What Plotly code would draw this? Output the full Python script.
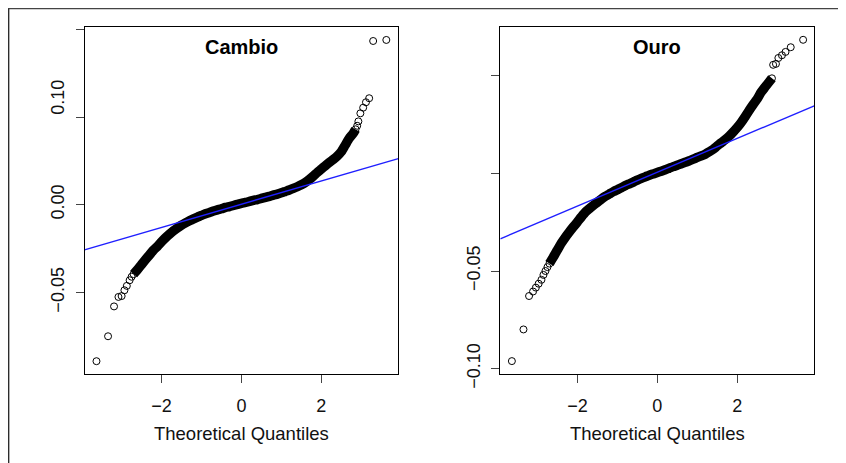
import plotly.graph_objects as go

# ---------------- data ----------------
# Cambio: dense body of the QQ plot (theoretical quantile, sample quantile)
cambio_body_q = [-2.7, -2.6, -2.5, -2.4, -2.3, -2.2, -2.1, -2.0, -1.9, -1.8, -1.7, -1.6, -1.5,
                 -1.4, -1.3, -1.2, -1.1, -1.0, -0.9, -0.8, -0.7, -0.6, -0.5, -0.4, -0.3, -0.2,
                 -0.1, 0.0, 0.1, 0.2, 0.3, 0.4, 0.5, 0.6, 0.7, 0.8, 0.9, 1.0, 1.1, 1.2, 1.3,
                 1.4, 1.5, 1.6, 1.7, 1.8, 1.9, 2.0, 2.1, 2.2, 2.3, 2.4, 2.5, 2.6, 2.7, 2.8, 2.86]
cambio_body_v = [-0.0395, -0.0369, -0.0340, -0.0312, -0.0285, -0.0258, -0.0236, -0.0211, -0.0188,
                 -0.0167, -0.0148, -0.0131, -0.0116, -0.0103, -0.0091, -0.0080, -0.0070, -0.0061,
                 -0.0051, -0.0044, -0.0036, -0.0029, -0.0023, -0.0015, -0.0010, -0.0004, 0.0002,
                 0.0008, 0.0013, 0.0019, 0.0025, 0.0030, 0.0036, 0.0042, 0.0048, 0.0055, 0.0061,
                 0.0068, 0.0076, 0.0084, 0.0093, 0.0103, 0.0114, 0.0127, 0.0144, 0.0163, 0.0184,
                 0.0203, 0.0222, 0.0241, 0.0258, 0.0277, 0.0302, 0.0340, 0.0378, 0.0407, 0.0430]
# Cambio: individual tail points
cambio_tail_q = [-3.63, -3.34, -3.19, -3.08, -3.00, -2.93, -2.87, -2.80, -2.75,
                 2.90, 2.93, 2.98, 3.05, 3.12, 3.20, 3.30, 3.63]
cambio_tail_v = [-0.0891, -0.0749, -0.0579, -0.0525, -0.0520, -0.0487, -0.0462, -0.0430, -0.0410,
                 0.0450, 0.0475, 0.0521, 0.0553, 0.0584, 0.0607, 0.0933, 0.0939]
cambio_line_intercept = 0.0003
cambio_line_slope = 0.00661

# Ouro
ouro_body_q = [-2.7, -2.6, -2.5, -2.4, -2.3, -2.2, -2.1, -2.0, -1.9, -1.8, -1.7, -1.6, -1.5,
               -1.4, -1.3, -1.2, -1.1, -1.0, -0.9, -0.8, -0.7, -0.6, -0.5, -0.4, -0.3, -0.2,
               -0.1, 0.0, 0.1, 0.2, 0.3, 0.4, 0.5, 0.6, 0.7, 0.8, 0.9, 1.0, 1.1, 1.2, 1.3,
               1.4, 1.5, 1.6, 1.7, 1.8, 1.9, 2.0, 2.1, 2.2, 2.3, 2.4, 2.5, 2.6, 2.7, 2.8, 2.87]
ouro_body_v = [-0.0462, -0.0428, -0.0392, -0.0357, -0.0327, -0.0300, -0.0274, -0.0249, -0.0223,
               -0.0199, -0.0181, -0.0164, -0.0148, -0.0132, -0.0118, -0.0106, -0.0094, -0.0084,
               -0.0074, -0.0063, -0.0054, -0.0045, -0.0035, -0.0026, -0.0018, -0.0010, -0.0003,
               0.0004, 0.0011, 0.0018, 0.0026, 0.0034, 0.0041, 0.0049, 0.0056, 0.0064, 0.0072,
               0.0081, 0.0089, 0.0098, 0.0110, 0.0123, 0.0140, 0.0156, 0.0172, 0.0190, 0.0211,
               0.0234, 0.0260, 0.0290, 0.0322, 0.0352, 0.0380, 0.0415, 0.0442, 0.0468, 0.0486]
ouro_tail_q = [-3.64, -3.35, -3.21, -3.11, -3.04, -2.97, -2.90, -2.85, -2.80, -2.75,
               2.90, 2.97, 3.03, 3.12, 3.21, 3.34, 3.65]
ouro_tail_v = [-0.0961, -0.0799, -0.0628, -0.0605, -0.0585, -0.0565, -0.0545, -0.0520, -0.0500,
               -0.0480, 0.0555, 0.0560, 0.0590, 0.0604, 0.0621, 0.0645, 0.0683]
ouro_line_intercept = 0.0005
ouro_line_slope = 0.00866

titles = ["Cambio", "Ouro"]
x_title = "Theoretical Quantiles"
x_tickvals = [-2, 0, 2]
x_ticktext = ["\u22122", "0", "2"]
cambio_tickvals = [-0.05, 0.0, 0.05, 0.10]
cambio_label_vals = [-0.05, 0.0, 0.0597]
cambio_label_text = ["\u22120.05", "0.00", "0.10"]
ouro_tickvals = [-0.10, -0.05, 0.0, 0.05]
ouro_ticktext = ["\u22120.10", "\u22120.05", "", ""]

x_range = [-3.93, 3.93]
cambio_y_range = [-0.0964, 0.1011]
ouro_y_range = [-0.1027, 0.0747]

# ---------------- figure ----------------
OFF = 8  # page body margin
W, H = 846 - OFF, 463 - OFF
FONT = "Liberation Sans, Arial, sans-serif"


def fx(p):
    return (p - OFF) / W


def fy(p):
    return 1 - (p - OFF) / H


fig = go.Figure()

panels = [
    (cambio_body_q, cambio_body_v, cambio_tail_q, cambio_tail_v,
     cambio_line_intercept, cambio_line_slope, "x", "y"),
    (ouro_body_q, ouro_body_v, ouro_tail_q, ouro_tail_v,
     ouro_line_intercept, ouro_line_slope, "x2", "y2"),
]
circle = dict(symbol="circle-open", size=7, color="black", line=dict(width=1, color="black"))
for bq, bv, tq, tv, a, b, xa, ya in panels:
    fig.add_trace(go.Scatter(x=bq, y=bv, mode="lines+markers",
                             line=dict(color="black", width=9.5, simplify=False,
                                       shape="spline", smoothing=0.6),
                             marker=circle, xaxis=xa, yaxis=ya,
                             showlegend=False, hoverinfo="skip"))
    fig.add_trace(go.Scatter(x=tq, y=tv, mode="markers", marker=circle,
                             xaxis=xa, yaxis=ya, showlegend=False, hoverinfo="skip"))
    fig.add_trace(go.Scatter(x=x_range, y=[a + b * x_range[0], a + b * x_range[1]],
                             mode="lines", line=dict(color="#1f1fff", width=1.4),
                             xaxis=xa, yaxis=ya, showlegend=False, hoverinfo="skip"))

# invisible trace to activate label overlay axis
fig.add_trace(go.Scatter(x=[None], y=[None], xaxis="x", yaxis="y3", showlegend=False))

tickfont = dict(family=FONT, size=18, color="#111")
yd = [fy(374), fy(27.3)]
common_x = dict(range=x_range, tickvals=x_tickvals, ticktext=x_ticktext, ticks="outside",
                ticklen=8, tickwidth=1, tickcolor="#444", showline=True, mirror=True,
                linecolor="black", linewidth=1, showgrid=False, zeroline=False,
                tickfont=tickfont, ticklabelstandoff=7, automargin=False,
                title=dict(text=x_title, font=dict(family=FONT, size=18.5, color="#111"),
                           standoff=12))
common_y = dict(ticks="outside", ticklen=8, tickwidth=1, tickcolor="#444", showline=True,
                mirror=True, linecolor="black", linewidth=1, showgrid=False, zeroline=False,
                tickfont=tickfont, tickangle=-90, ticklabelstandoff=4, automargin=False)

fig.update_layout(
    width=W, height=H,
    margin=dict(l=0, r=0, t=0, b=0),
    paper_bgcolor="white", plot_bgcolor="white",
    xaxis=dict(domain=[fx(84.5), fx(398.3)], anchor="y", **common_x),
    yaxis=dict(domain=yd, anchor="x", range=cambio_y_range, tickvals=cambio_tickvals,
               showticklabels=False, **common_y),
    yaxis3=dict(overlaying="y", anchor="x", side="left", range=cambio_y_range,
                tickvals=cambio_label_vals, ticktext=cambio_label_text, ticks="outside",
                ticklen=8, tickcolor="rgba(0,0,0,0)", showline=False, showgrid=False,
                zeroline=False, tickfont=tickfont, tickangle=-90, ticklabelstandoff=4,
                automargin=False),
    xaxis2=dict(domain=[fx(500.3), fx(814.3)], anchor="y2", **common_x),
    yaxis2=dict(domain=yd, anchor="x2", range=ouro_y_range, tickvals=ouro_tickvals,
                ticktext=ouro_ticktext, **common_y),
    annotations=[
        dict(text="<b>%s</b>" % titles[0], x=fx(241.4), y=fy(47.2), xref="paper", yref="paper",
             xanchor="center", yanchor="middle", showarrow=False,
             font=dict(family=FONT, size=20, color="black")),
        dict(text="<b>%s</b>" % titles[1], x=fx(657.3), y=fy(47.2), xref="paper", yref="paper",
             xanchor="center", yanchor="middle", showarrow=False,
             font=dict(family=FONT, size=20, color="black")),
    ],
    shapes=[
        dict(type="line", xref="paper", yref="paper", x0=0, x1=1, y0=fy(8.7), y1=fy(8.7),
             line=dict(color="#444", width=1.3)),
        dict(type="line", xref="paper", yref="paper", x0=fx(8.7), x1=fx(8.7), y0=0, y1=fy(8.7),
             line=dict(color="#222", width=1.3)),
    ],
)

fig.write_html("out.html")
